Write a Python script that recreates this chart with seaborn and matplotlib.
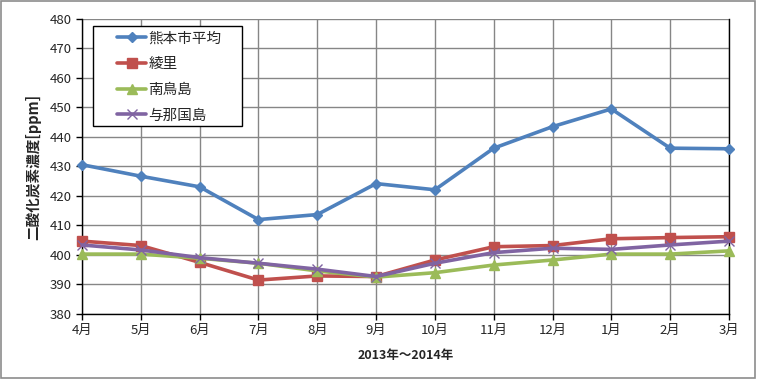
import pandas as pd
import matplotlib
matplotlib.use('Agg')
import matplotlib.pyplot as plt
import seaborn as sns

# months on the x axis (2013-04 .. 2014-03)
months = ['4月', '5月', '6月', '7月', '8月', '9月', '10月', '11月', '12月', '1月', '2月', '3月']

# CO2 concentration [ppm]
kumamoto = [430.6, 426.7, 423.1, 412.0, 413.7, 424.2, 422.1, 436.2, 443.5, 449.5, 436.2, 436.0]
ayasato = [404.7, 403.2, 397.5, 391.5, 392.9, 392.7, 398.3, 402.8, 403.2, 405.5, 405.9, 406.2]
minamitorishima = [400.3, 400.3, 398.9, 397.2, 394.6, 392.5, 394.0, 396.6, 398.3, 400.3, 400.3, 401.4]
yonaguni = [403.4, 401.7, 399.1, 397.2, 395.2, 392.7, 397.2, 400.8, 402.3, 401.9, 403.4, 404.7]

series_names = ['熊本市平均', '綾里', '南鳥島', '与那国島']
series_values = [kumamoto, ayasato, minamitorishima, yonaguni]
colors = ['#4F81BD', '#C0504D', '#9BBB59', '#8064A2']
markers = ['D', 's', '^', 'x']
marker_sizes = [5.5, 6.5, 7, 7]

rows = []
for name, vals in zip(series_names, series_values):
    for i, (m, v) in enumerate(zip(months, vals)):
        rows.append({'pos': i, 'month': m, 'site': name, 'ppm': v})
df = pd.DataFrame(rows)

sns.set_style('white')
plt.rcParams['font.family'] = ['Noto Sans CJK JP', 'DejaVu Sans']

fig = plt.figure(figsize=(7.57, 3.79), dpi=100)
ax = fig.add_axes([0.1083, 0.1715, 0.8547, 0.7785])

# one call per site, since seaborn won't mix filled and line markers
for name, c, mk, ms in zip(series_names, colors, markers, marker_sizes):
    sns.lineplot(data=df[df['site'] == name], x='pos', y='ppm', color=c,
                 marker=mk, markersize=ms,
                 markeredgecolor=c, markerfacecolor=c, markeredgewidth=1.0,
                 linewidth=2.6, label=name, ax=ax, clip_on=False, zorder=3)

ax.set_xlim(0, len(months) - 1)
ax.set_ylim(380, 480)
ax.set_xticks(range(len(months)))
ax.set_xticklabels(months)
ax.set_yticks(range(380, 481, 10))
ax.tick_params(axis='both', labelsize=9.5, direction='out', length=4,
               width=1, color='black', bottom=True, left=True)
ax.grid(True, color='#868686', linewidth=1)
ax.set_axisbelow(True)
for side in ['left', 'bottom', 'right']:
    ax.spines[side].set_color('black')
    ax.spines[side].set_linewidth(1)
ax.spines['top'].set_visible(False)

ax.set_xlabel('2013年～2014年', fontsize=9, fontweight='bold', labelpad=8)
ax.set_ylabel('二酸化炭素濃度[ppm]', fontsize=10.5, fontweight='bold', labelpad=6)

# legend without its own frame; the frame is drawn separately so the
# side padding can be wider than the top/bottom padding
leg = ax.legend(loc='upper left', bbox_to_anchor=(0.054, 0.958),
                fontsize=10.5, frameon=False, handlelength=2.0,
                borderpad=0, borderaxespad=0, labelspacing=0.8,
                handletextpad=0.15)
leg.set_zorder(6)
frame = plt.Rectangle((0.017, 0.637), 0.230, 0.339, transform=ax.transAxes,
                      facecolor='white', edgecolor='black', linewidth=1,
                      zorder=5)
ax.add_patch(frame)

# thin gray frame round the whole chart
fig.patches.append(plt.Rectangle((0.001, 0.002), 0.997, 0.995,
                                 transform=fig.transFigure, fill=False,
                                 edgecolor='#8c8c8c', linewidth=1.2))

fig.savefig('out.png', dpi=100)
